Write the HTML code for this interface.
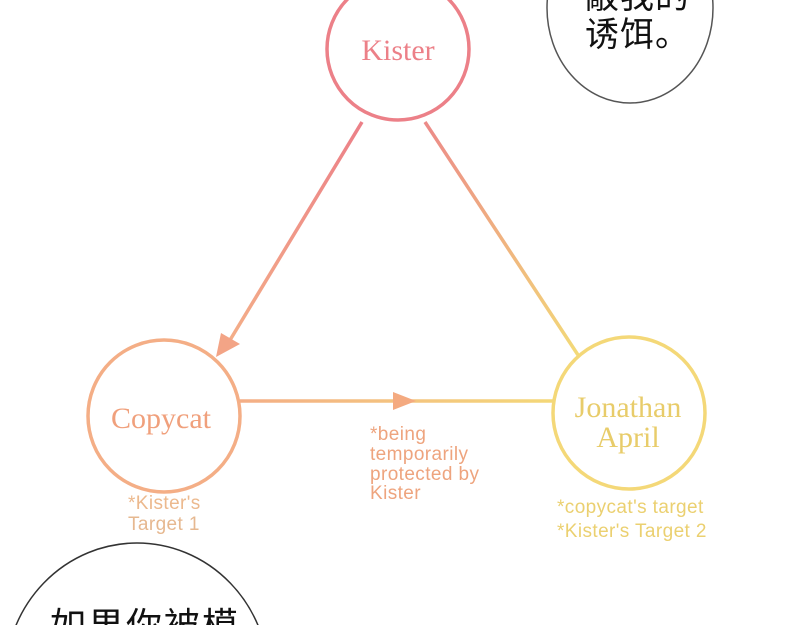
<!DOCTYPE html>
<html><head><meta charset="utf-8"><style>
html,body{margin:0;padding:0;background:#fff;width:800px;height:625px;overflow:hidden}
svg{display:block}
</style></head><body>
<svg width="800" height="625" xmlns="http://www.w3.org/2000/svg">
<defs>
<linearGradient id="g1" gradientUnits="userSpaceOnUse" x1="362" y1="122" x2="224" y2="350"><stop offset="0" stop-color="#ec8088"/><stop offset="1" stop-color="#f4b088"/></linearGradient>
<linearGradient id="g2" gradientUnits="userSpaceOnUse" x1="425" y1="122" x2="578" y2="355"><stop offset="0" stop-color="#ec8a88"/><stop offset="1" stop-color="#f3da78"/></linearGradient>
<linearGradient id="g3" gradientUnits="userSpaceOnUse" x1="240" y1="401" x2="554" y2="401"><stop offset="0" stop-color="#f4ae86"/><stop offset="1" stop-color="#f4d878"/></linearGradient>
</defs>
<ellipse cx="630" cy="8" rx="83" ry="95" fill="#fff" stroke="#555" stroke-width="1.5"/>
<text x="585" y="46" font-family="Liberation Sans, Noto Sans CJK SC, sans-serif" font-size="34" letter-spacing="1" fill="#111">诱饵。</text>
<text x="585" y="8" font-family="Liberation Sans, Noto Sans CJK SC, sans-serif" font-size="34" letter-spacing="1" fill="#111">敲我的</text>
<ellipse cx="137" cy="680" rx="132" ry="137" fill="#fff" stroke="#333" stroke-width="1.5"/>
<text x="50" y="638" font-family="Liberation Sans, Noto Sans CJK SC, sans-serif" font-size="36" letter-spacing="2" fill="#111">如果你被模</text>
<line x1="362" y1="122" x2="224" y2="350" stroke="url(#g1)" stroke-width="3.5"/>
<polygon points="216,357 221,333 240,344" fill="#f3a486"/>
<line x1="425" y1="122" x2="578" y2="355" stroke="url(#g2)" stroke-width="3.5"/>
<line x1="240" y1="401" x2="554" y2="401" stroke="url(#g3)" stroke-width="3.5"/>
<polygon points="416,401 393,392 393,410" fill="#f4aa80"/>
<circle cx="398" cy="49" r="71" fill="#fff" stroke="#ec8088" stroke-width="3.5"/>
<text x="398" y="60" text-anchor="middle" font-family="Liberation Serif, serif" font-size="30" fill="#ec8088">Kister</text>
<circle cx="164" cy="416" r="76" fill="#fff" stroke="#f4ae86" stroke-width="3.5"/>
<text x="161" y="428" text-anchor="middle" font-family="Liberation Serif, serif" font-size="30" fill="#f0a07c">Copycat</text>
<circle cx="629" cy="413" r="76" fill="#fff" stroke="#f4d878" stroke-width="3.5"/>
<text x="628" y="417" text-anchor="middle" font-family="Liberation Serif, serif" font-size="30" fill="#e8cc6a">Jonathan</text>
<text x="628" y="447" text-anchor="middle" font-family="Liberation Serif, serif" font-size="30" fill="#e8cc6a">April</text>
<g font-family="Liberation Sans, sans-serif" font-size="19" letter-spacing="0.4">
<text x="128" y="509" fill="#ecb98e">*Kister's</text>
<text x="128" y="530" fill="#e6b890">Target 1</text>
<text x="370" y="440" fill="#eea47e">*being</text>
<text x="370" y="460" fill="#eea47e">temporarily</text>
<text x="370" y="480" fill="#eea47e">protected by</text>
<text x="370" y="499" fill="#eea47e">Kister</text>
<text x="557" y="513" fill="#ebd070">*copycat's target</text>
<text x="557" y="537" fill="#ebd070">*Kister's Target 2</text>
</g>
</svg>
</body></html>
